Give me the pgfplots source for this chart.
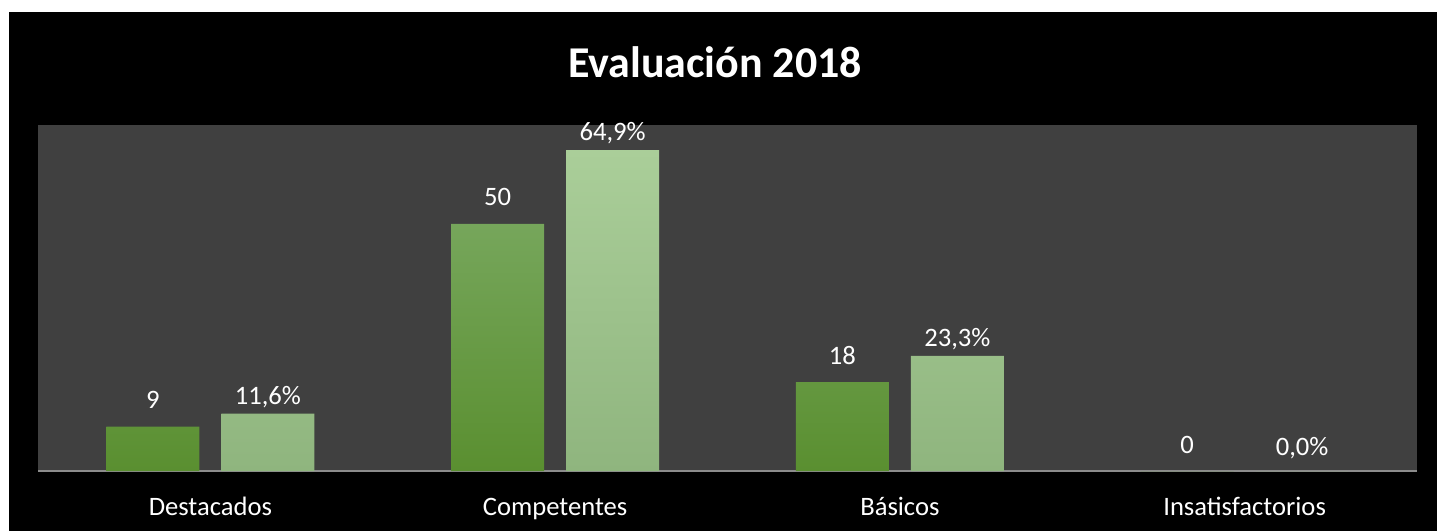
\documentclass[border=0pt]{standalone}
\usepackage{pgfplots}
\pgfplotsset{compat=1.18}
\usepackage{fontspec}
\setmainfont{Carlito}
\definecolor{plotbg}{HTML}{404040}
\definecolor{axgray}{HTML}{8C8C8C}
\definecolor{cTop}{HTML}{76A65B}
\definecolor{cBot}{HTML}{5A8F30}
\definecolor{pTop}{HTML}{AACE99}
\definecolor{pBot}{HTML}{8FB57E}
\begin{document}
\begin{tikzpicture}
\fill[white] (0pt,0pt) rectangle (718.5pt,265.5pt);
\fill[black] (4.5pt,0pt) rectangle (718.5pt,259.5pt);
\node[anchor=base, text=white, font=\fontsize{22pt}{26pt}\selectfont\bfseries] at (357.5pt,226.5pt) {Evaluación 2018};
\begin{axis}[
  at={(19pt,30pt)}, anchor=south west,
  scale only axis, width=689.5pt, height=173pt,
  xmin=-0.5, xmax=3.5, ymin=0, ymax=70,
  axis background/.style={fill=plotbg},
  axis x line*=bottom, axis y line=none,
  x axis line style={draw=axgray, line width=0.75pt, -},
  xtick={0,1,2,3},
  xticklabels={Destacados,Competentes,Básicos,Insatisfactorios},
  major tick length=0pt,
  xticklabel style={anchor=base, yshift=-22pt, text=white, font=\fontsize{13.3pt}{16pt}\selectfont},
  ytick=\empty,
  clip=false,
  nodes near coords,
  point meta=explicit symbolic,
  every node near coord/.append style={anchor=base, text=white, font=\fontsize{13.3pt}{16pt}\selectfont},
]
\addplot[ybar, bar width=46.5pt, bar shift=-28.75pt, draw=none, top color=cTop, bottom color=cBot,
  every node near coord/.append style={xshift=-28.75pt, yshift=9pt}]
  coordinates {(0,9) [9] (1,50) [50] (2,18) [18] (3,0) [0]};
\addplot[ybar, bar width=46.5pt, bar shift=28.75pt, draw=none, top color=pTop, bottom color=pBot,
  every node near coord/.append style={xshift=28.75pt, yshift=4.75pt},
  coordinate style/.condition={y==0}{yshift=3pt}]
  coordinates {(0,11.6) [11,6\%] (1,64.9) [64,9\%] (2,23.3) [23,3\%] (3,0) [0,0\%]};
\end{axis}
\end{tikzpicture}
\end{document}
